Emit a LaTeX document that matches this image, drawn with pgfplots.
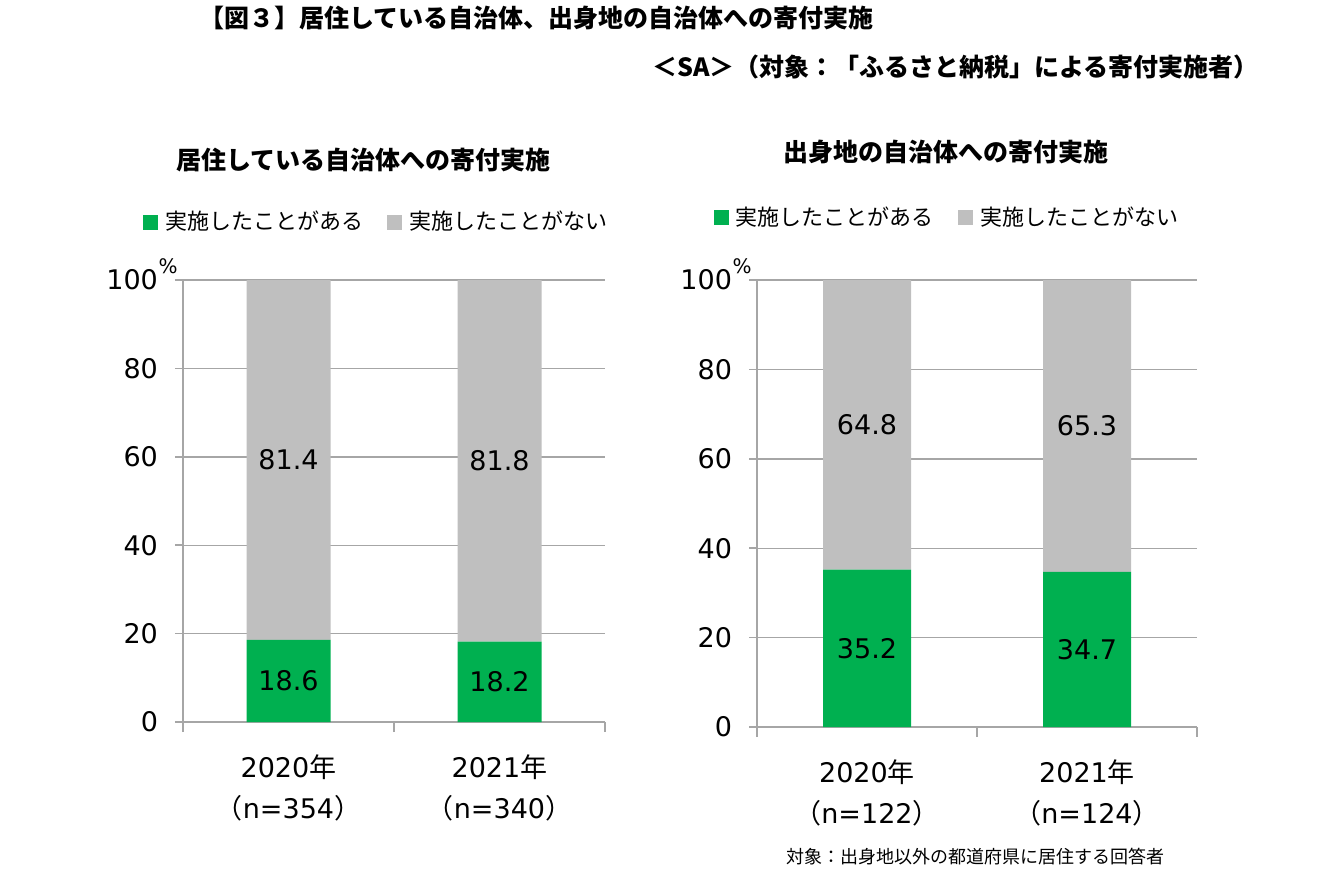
\documentclass[border=0pt]{standalone}
\usepackage{fontspec}
\setmainfont{Noto Sans CJK JP}
\newfontfamily\dv{DejaVu Sans}
\usepackage{pgfplots}
\pgfplotsset{compat=1.18}
\definecolor{grn}{HTML}{00B050}
\definecolor{gry}{HTML}{BFBFBF}
\definecolor{gridc}{HTML}{A6A6A6}
\tikzset{dl/.style={font=\dv\fontsize{13.5}{14}\selectfont}}
\pgfplotsset{
  panel/.style={
    scale only axis,
    ybar stacked,
    xmin=-0.5, xmax=1.5, ymin=0, ymax=100,
    ytick={0,20,40,60,80,100},
    xtick={0,1},
    minor xtick={-0.5,0.5,1.5},
    axis lines*=left,
    axis line style={gridc, line width=0.8pt},
    ymajorgrids,
    grid style={gridc, line width=0.7pt},
    tick align=outside,
    major tick length=4pt,
    minor tick length=5pt,
    major x tick style={draw=none},
    minor x tick style={gridc, line width=0.8pt},
    major y tick style={gridc, line width=0.8pt},
    /pgf/number format/assume math mode=true,
    yticklabel style={font=\dv\fontsize{13.5}{14}\selectfont, xshift=-5pt},
    xticklabel style={font=\fontsize{13.5}{20.5}\selectfont, align=center, yshift=-9pt},
    legend columns=2,
    legend style={draw=none, fill=none, font=\fontsize{11}{12}\selectfont,
      /tikz/every even column/.append style={column sep=10pt},
      /tikz/every odd column/.append style={column sep=1.5pt},
      inner sep=0pt},
    legend image code/.code={\fill[##1] (0pt,-3.8pt) rectangle (7.6pt,3.8pt);},
    legend cell align=left,
  },
}
\begin{document}
\begin{tikzpicture}
\path[use as bounding box] (0pt,0pt) rectangle (660pt,-434.5pt);
\node[anchor=west, font=\bfseries\fontsize{12.5}{14}\selectfont] at (96pt,-9pt) {【図３】居住している自治体、出身地の自治体への寄付実施};
\node[anchor=east, font=\bfseries\fontsize{12.5}{14}\selectfont] at (633pt,-33.5pt) {＜SA＞（対象：「ふるさと納税」による寄付実施者）};
\node[font=\bfseries\fontsize{12.5}{14}\selectfont] at (181.75pt,-80pt) {居住している自治体への寄付実施};
\node[font=\bfseries\fontsize{12.5}{14}\selectfont] at (473pt,-76pt) {出身地の自治体への寄付実施};

\begin{axis}[panel, name=ax1,
  at={(91.5pt,-361pt)}, anchor=south west, width=211pt, height=221pt,
  bar width=42pt,
  xticklabels={{{\dv 2020}年\\（{\dv n=354}）},{{\dv 2021}年\\（{\dv n=340}）}},
  legend style={at={(axis description cs:0.46,1.131)}, anchor=center},
]
\addplot[fill=grn, draw=none] coordinates {(0,18.6) (1,18.2)};
\addplot[fill=gry, draw=none] coordinates {(0,81.4) (1,81.8)};
\legend{実施したことがある,実施したことがない}
\coordinate (a1) at (axis cs:0,9.3);
\coordinate (a2) at (axis cs:1,9.1);
\coordinate (a3) at (axis cs:0,59.3);
\coordinate (a4) at (axis cs:1,59.1);
\end{axis}
\node[dl] at (a1) {18.6};
\node[dl] at (a2) {18.2};
\node[dl] at (a3) {81.4};
\node[dl] at (a4) {81.8};
\node[font=\dv\fontsize{10}{10}\selectfont] at ([xshift=-7.5pt,yshift=7pt]ax1.north west) {\%};

\begin{axis}[panel, name=ax2,
  at={(378.5pt,-363.5pt)}, anchor=south west, width=220pt, height=223.5pt,
  bar width=44pt,
  xticklabels={{{\dv 2020}年\\（{\dv n=122}）},{{\dv 2021}年\\（{\dv n=124}）}},
  legend style={at={(axis description cs:0.434,1.139)}, anchor=center},
]
\addplot[fill=grn, draw=none] coordinates {(0,35.2) (1,34.7)};
\addplot[fill=gry, draw=none] coordinates {(0,64.8) (1,65.3)};
\legend{実施したことがある,実施したことがない}
\coordinate (b1) at (axis cs:0,17.6);
\coordinate (b2) at (axis cs:1,17.35);
\coordinate (b3) at (axis cs:0,67.6);
\coordinate (b4) at (axis cs:1,67.35);
\end{axis}
\node[dl] at (b1) {35.2};
\node[dl] at (b2) {34.7};
\node[dl] at (b3) {64.8};
\node[dl] at (b4) {65.3};
\node[font=\dv\fontsize{10}{10}\selectfont] at ([xshift=-7.5pt,yshift=7pt]ax2.north west) {\%};

\node[font=\fontsize{9}{10}\selectfont] at (487.5pt,-428.5pt) {対象：出身地以外の都道府県に居住する回答者};
\end{tikzpicture}
\end{document}
